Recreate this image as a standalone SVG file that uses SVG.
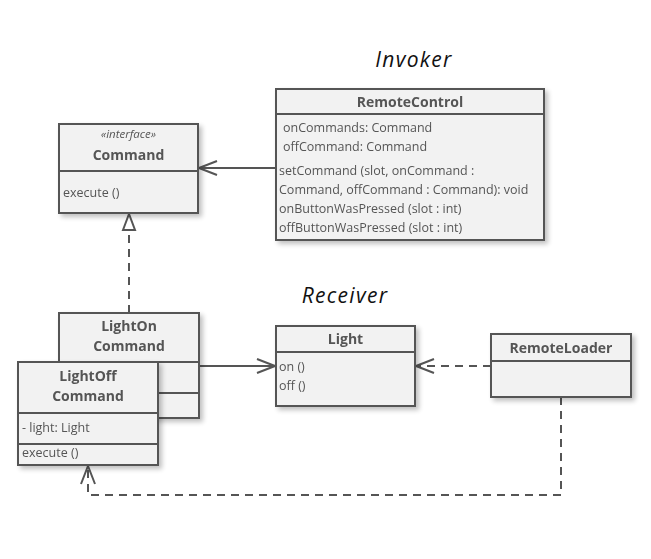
<svg xmlns="http://www.w3.org/2000/svg" width="651" height="559" viewBox="0 0 651 559">
<defs>
<filter id="sh" x="-20%" y="-20%" width="150%" height="150%">
<feGaussianBlur in="SourceAlpha" stdDeviation="2.5"/>
<feOffset dx="3" dy="3"/>
<feComponentTransfer><feFuncA type="linear" slope="0.25"/></feComponentTransfer>
<feMerge><feMergeNode/><feMergeNode in="SourceGraphic"/></feMerge>
</filter>
<marker id="open" viewBox="0 0 20 20" refX="19" refY="10" markerWidth="20" markerHeight="20" markerUnits="userSpaceOnUse" orient="auto">
<path d="M1,3 L19,10 L1,17" fill="none" stroke="#555" stroke-width="2"/>
</marker>
<marker id="tri" viewBox="0 0 20 20" refX="19" refY="10" markerWidth="20" markerHeight="20" markerUnits="userSpaceOnUse" orient="auto">
<path d="M3,4 L19,10 L3,16 Z" fill="#fff" stroke="#555" stroke-width="2"/>
</marker>
</defs>
<style>
.box{fill:#f2f2f2;stroke:#555;stroke-width:2}
.sep{stroke:#555;stroke-width:2}
.t{font-family:"Open Sans","Noto Sans",sans-serif;font-size:12.5px;fill:#555}
.b{font-family:"Open Sans","Noto Sans",sans-serif;font-size:14px;font-weight:bold;fill:#555;text-anchor:middle}
.st{font-family:"Open Sans","Noto Sans",sans-serif;font-size:11.5px;font-style:italic;fill:#555;text-anchor:middle}
.lbl{font-family:"Open Sans","Noto Sans",sans-serif;font-size:21px;letter-spacing:1.3px;font-style:italic;fill:#111;text-anchor:middle}
.c{fill:none;stroke:#555;stroke-width:2}
.d{fill:none;stroke:#555;stroke-width:2;stroke-dasharray:8,6}
</style>
<rect width="651" height="559" fill="#fff"/>
<text class="lbl" x="414" y="67">Invoker</text>
<text class="lbl" x="345" y="303">Receiver</text>

<g id="connectors">
<path class="c" d="M276,168 L199,168" marker-end="url(#open)"/>
<path class="d" d="M129,313 L129,214" marker-end="url(#tri)"/>
<path class="c" d="M199,366 L275,366" marker-end="url(#open)"/>
<path class="d" d="M491,366 L416,366" marker-end="url(#open)"/>
<path class="d" d="M561,397 L561,495 L88,495 L88,466" marker-end="url(#open)"/>
</g>

<g id="RemoteControl" filter="url(#sh)">
<rect class="box" x="276" y="89" width="268" height="151"/>
<line class="sep" x1="276" y1="114" x2="544" y2="114"/>
<text class="b" x="410" y="107">RemoteControl</text>
<text class="t" x="283" y="132">onCommands: Command</text>
<text class="t" x="283" y="151">offCommand: Command</text>
<text class="t" x="279" y="175">setCommand (slot, onCommand :</text>
<text class="t" x="279" y="194">Command, offCommand : Command): void</text>
<text class="t" x="279" y="213">onButtonWasPressed (slot : int)</text>
<text class="t" x="279" y="232">offButtonWasPressed (slot : int)</text>
</g>

<g id="Command" filter="url(#sh)">
<rect class="box" x="59" y="124" width="139" height="89"/>
<line class="sep" x1="59" y1="171" x2="198" y2="171"/>
<text class="st" x="128.5" y="138">«interface»</text>
<text class="b" x="128.5" y="160">Command</text>
<text class="t" x="63" y="197">execute ()</text>
</g>

<g id="LightOnCommand" filter="url(#sh)">
<rect class="box" x="59" y="313" width="140" height="105"/>
<line class="sep" x1="59" y1="362" x2="199" y2="362"/>
<line class="sep" x1="59" y1="393" x2="199" y2="393"/>
<text class="b" x="129" y="331">LightOn</text>
<text class="b" x="129" y="351">Command</text>
</g>

<g id="LightOffCommand" filter="url(#sh)">
<rect class="box" x="18" y="362" width="140" height="103"/>
<line class="sep" x1="18" y1="413" x2="158" y2="413"/>
<line class="sep" x1="18" y1="444" x2="158" y2="444"/>
<text class="b" x="88" y="381">LightOff</text>
<text class="b" x="88" y="401">Command</text>
<text class="t" x="22" y="432">- light: Light</text>
<text class="t" x="22" y="457">execute ()</text>
</g>

<g id="Light" filter="url(#sh)">
<rect class="box" x="276" y="326" width="139" height="80"/>
<line class="sep" x1="276" y1="352" x2="415" y2="352"/>
<text class="b" x="345.5" y="344">Light</text>
<text class="t" x="279" y="371">on ()</text>
<text class="t" x="279" y="390">off ()</text>
</g>

<g id="RemoteLoader" filter="url(#sh)">
<rect class="box" x="491" y="334" width="140" height="63"/>
<line class="sep" x1="491" y1="361" x2="631" y2="361"/>
<text class="b" x="561" y="353">RemoteLoader</text>
</g>
</svg>
